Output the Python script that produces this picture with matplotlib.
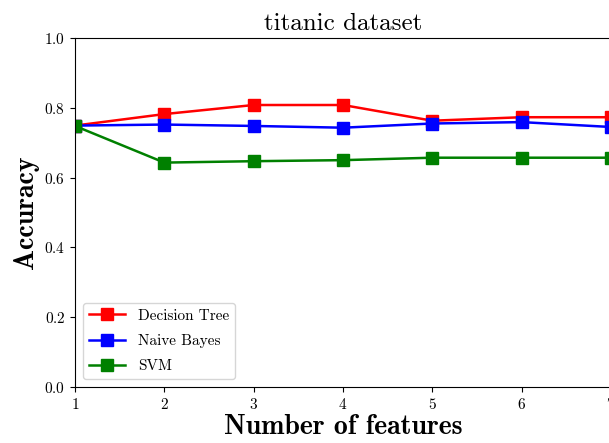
import matplotlib
matplotlib.use("Agg")
import matplotlib.pyplot as plt

plt.rcParams["font.family"] = ["cmr10", "DejaVu Serif"]
plt.rcParams["axes.formatter.use_mathtext"] = True
plt.rcParams["mathtext.fontset"] = "cm"

num_features = [1, 2, 3, 4, 5, 6, 7]
decision_tree = [0.749, 0.782, 0.808, 0.808, 0.763, 0.773, 0.773]
naive_bayes = [0.749, 0.752, 0.748, 0.743, 0.755, 0.759, 0.745]
svm = [0.748, 0.643, 0.647, 0.650, 0.657, 0.657, 0.657]

series = [
    ("Decision Tree", decision_tree, "red"),
    ("Naive Bayes", naive_bayes, "blue"),
    ("SVM", svm, "green"),
]

fig = plt.figure(figsize=(6.09, 4.43), dpi=100)
ax = fig.add_axes([75 / 609, 56 / 443, 536 / 609, 349 / 443])

for name, values, color in series:
    ax.plot(num_features, values, color=color, marker="s", markersize=9,
            linewidth=1.8, label=name)

ax.set_xlim(1, 7)
ax.set_ylim(0.0, 1.0)
ax.set_xticks(num_features)
ax.set_yticks([0.0, 0.2, 0.4, 0.6, 0.8, 1.0])
ax.tick_params(labelsize=11)

ax.set_title("titanic dataset", fontsize=18, pad=6)
bold = ["cmb10", "DejaVu Serif"]
ax.set_xlabel("Number of features", fontsize=20, family=bold, labelpad=2)
ax.set_ylabel("Accuracy", fontsize=20, family=bold, labelpad=4)

ax.legend(loc="lower left", fontsize=11, framealpha=0.8,
          handlelength=2.4, labelspacing=0.75)

fig.savefig("out.png", dpi=100)
